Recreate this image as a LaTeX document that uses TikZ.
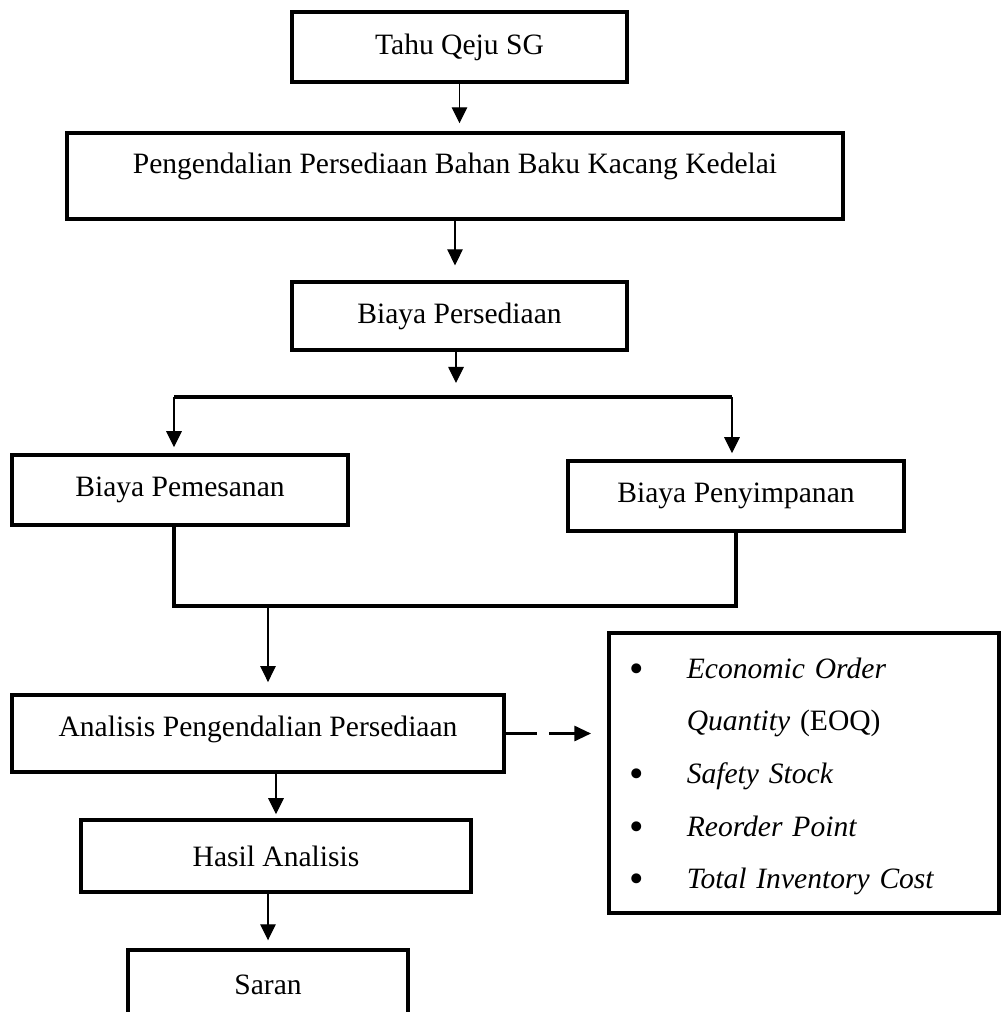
\documentclass[tikz,border=0pt]{standalone}
\usepackage{fontspec}
\setmainfont{Liberation Serif}
\usetikzlibrary{arrows.meta}
\tikzset{
  kotak/.style 2 args={draw, line width=1.5pt, minimum width=#1*0.406pt,
    minimum height=#2*0.406pt, inner sep=0pt, font=\fontsize{12}{14}\selectfont},
  garis/.style={line width=1.4pt},
  panah/.style={line width=0.45pt, -{Triangle[length=6.5pt,width=6.3pt]}},
  putus/.style={line width=1.35pt, dash pattern=on 12.6pt off 4.9pt,
    -{Triangle[length=6.8pt,width=6pt]}, shorten >=6.5pt}
}
\newcommand{\butir}{\raisebox{-1.6pt}{\scalebox{1.4}{\textbullet}}}
\begin{document}
\begin{tikzpicture}[x=0.406pt,y=-0.406pt]
\clip (0,0) rectangle (1002,1012);
\node[kotak={335}{70}] (tahu) at (459.5,47) {Tahu Qeju SG};
\node[kotak={776}{86}, text depth=10pt] (kendali) at (455,176) {Pengendalian Persediaan Bahan Baku Kacang Kedelai};
\node[kotak={335}{68}] (persediaan) at (459.5,316) {Biaya Persediaan};
\node[kotak={336}{70}] (pesan) at (180,490) {Biaya Pemesanan};
\node[kotak={336}{70}] (simpan) at (736,496) {Biaya Penyimpanan};
\node[kotak={492}{77}, text depth=6pt] (analisis) at (258,733.5) {Analisis Pengendalian Persediaan};
\node[kotak={390}{72}] (hasil) at (276,856) {Hasil Analisis};
\node[kotak={280}{70}] (saran) at (268,985) {Saran};
\node[kotak={390}{280}, text width=141.5pt, inner xsep=8.4pt, align=left,
  font=\fontsize{12}{21.4}\selectfont] (metode) at (804,773) {\begin{tabular}{@{}l@{\hspace{17.3pt}}l@{}}
\butir & \textit{Economic Order}\\
 & \textit{Quantity} (EOQ)\\
\butir & \textit{Safety Stock}\\
\butir & \textit{Reorder Point}\\
\butir & \textit{Total Inventory Cost}
\end{tabular}};
\coordinate (bagi) at (456,397);
\coordinate (kiri) at (174,397);
\coordinate (kanan) at (732,397);
\coordinate (gabung) at (268,606);
\draw[panah, shorten >=3.2pt] (tahu.south) -- (tahu.south |- kendali.north);
\draw[panah, shorten >=6pt] (kendali.south) -- (kendali.south |- persediaan.north);
\draw[panah, shorten >=5.7pt] (bagi |- persediaan.south) -- (bagi);
\draw[garis] (kiri) -- (kanan);
\draw[panah, shorten >=2.4pt] (kiri) -- (kiri |- pesan.north);
\draw[panah, shorten >=2.4pt] (kanan) -- (kanan |- simpan.north);
\draw[garis] (kiri |- pesan.south) -- (kiri |- gabung) -- (gabung -| simpan.south) -- (simpan.south);
\draw[panah, shorten >=4.5pt] (gabung) -- (gabung |- analisis.north);
\draw[putus] (analisis.east) -- (analisis.east -| metode.west);
\draw[panah, shorten >=1.6pt] (hasil.north |- analisis.south) -- (hasil.north);
\draw[panah, shorten >=3.2pt] (saran.north |- hasil.south) -- (saran.north);
\end{tikzpicture}
\end{document}
